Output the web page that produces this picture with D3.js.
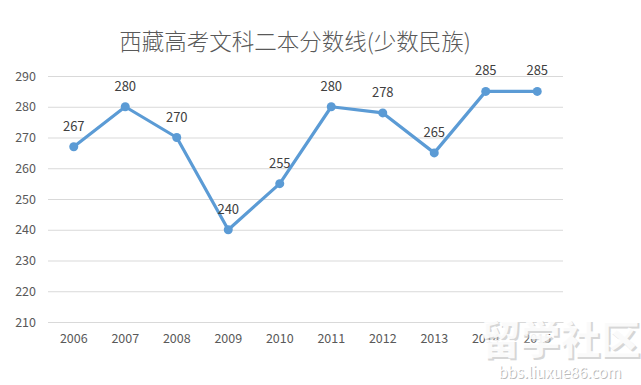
<!DOCTYPE html>
<html>
<head>
<meta charset="utf-8">
<script src="https://cdn.jsdelivr.net/npm/d3@7"></script>
<style>
  body { margin: 0; background: #fff; }
  text { font-family: "Noto Sans CJK SC", "Open Sans", sans-serif; }
</style>
</head>
<body>
<script>
  // data
  var years = ["2006", "2007", "2008", "2009", "2010", "2011", "2012", "2013", "2014", "2015"];
  var scores = [267, 280, 270, 240, 255, 280, 278, 265, 285, 285];
  var yTicks = [210, 220, 230, 240, 250, 260, 270, 280, 290];

  var w = 641, h = 385;
  var margin = {top: 76, right: 78, bottom: 63, left: 48};

  var svg = d3.select("body").append("svg")
      .attr("width", w)
      .attr("height", h);

  var x = d3.scaleBand()
      .domain(years)
      .range([margin.left, w - margin.right]);

  var y = d3.scaleLinear()
      .domain([210, 290])
      .range([h - margin.bottom, margin.top]);

  // title
  svg.append("text")
      .attr("x", 295)
      .attr("y", 50)
      .attr("text-anchor", "middle")
      .attr("font-size", 22.5)
      .attr("font-weight", 300)
      .attr("fill", "#595959")
      .text("西藏高考文科二本分数线(少数民族)");

  // gridlines + y labels
  var yAxis = svg.append("g")
      .attr("transform", `translate(${margin.left},0)`)
      .call(d3.axisLeft(y).tickValues(yTicks).tickSize(-(w - margin.left - margin.right)).tickPadding(12));
  yAxis.select(".domain").remove();
  yAxis.selectAll(".tick line").attr("stroke", "#d9d9d9");
  yAxis.selectAll(".tick text")
      .attr("fill", "#595959")
      .attr("font-size", 12.5)
      .attr("font-family", "'Open Sans', sans-serif");

  // x labels
  var xAxis = svg.append("g")
      .attr("transform", `translate(0,${h - margin.bottom})`)
      .call(d3.axisBottom(x).tickSize(0).tickPadding(12));
  xAxis.select(".domain").attr("stroke", "#d9d9d9");
  xAxis.selectAll(".tick text")
      .attr("fill", "#595959")
      .attr("font-size", 12.5)
      .attr("font-family", "'Open Sans', sans-serif");

  var cx = d => x(d) + x.bandwidth() / 2;

  // line
  var line = d3.line()
      .x((d, i) => cx(years[i]))
      .y(d => y(d));

  svg.append("path")
      .datum(scores)
      .attr("fill", "none")
      .attr("stroke", "#5b9bd5")
      .attr("stroke-width", 3.2)
      .attr("stroke-linejoin", "round")
      .attr("d", line);

  svg.selectAll("circle.pt")
      .data(scores)
      .enter().append("circle")
      .attr("class", "pt")
      .attr("cx", (d, i) => cx(years[i]))
      .attr("cy", d => y(d))
      .attr("r", 4.5)
      .attr("fill", "#5b9bd5");

  svg.selectAll("text.lbl")
      .data(scores)
      .enter().append("text")
      .attr("class", "lbl")
      .attr("x", (d, i) => cx(years[i]))
      .attr("y", d => y(d) - 16)
      .attr("text-anchor", "middle")
      .attr("font-size", 13)
      .attr("font-family", "'Open Sans', sans-serif")
      .attr("fill", "#404040")
      .text(d => d);

  // watermark
  var wm = svg.append("g").attr("transform", "translate(560,362)");
  wm.append("text")
      .attr("x", 2).attr("y", -6)
      .attr("text-anchor", "middle")
      .attr("font-size", 40)
      .attr("font-weight", 900)
      .attr("fill", "#bbb")
      .attr("opacity", 0.6)
      .text("留学社区");
  wm.append("text")
      .attr("y", -8)
      .attr("text-anchor", "middle")
      .attr("font-size", 40)
      .attr("font-weight", 900)
      .attr("fill", "#fff")
      .attr("opacity", 0.9)
      .text("留学社区");
  wm.append("text")
      .attr("x", 1).attr("y", 17)
      .attr("text-anchor", "middle")
      .attr("font-size", 15)
      .attr("fill", "#bbb")
      .text("bbs.liuxue86.com");
  wm.append("text")
      .attr("y", 16)
      .attr("text-anchor", "middle")
      .attr("font-size", 15)
      .attr("fill", "#fff")
      .text("bbs.liuxue86.com");
</script>
</body>
</html>
